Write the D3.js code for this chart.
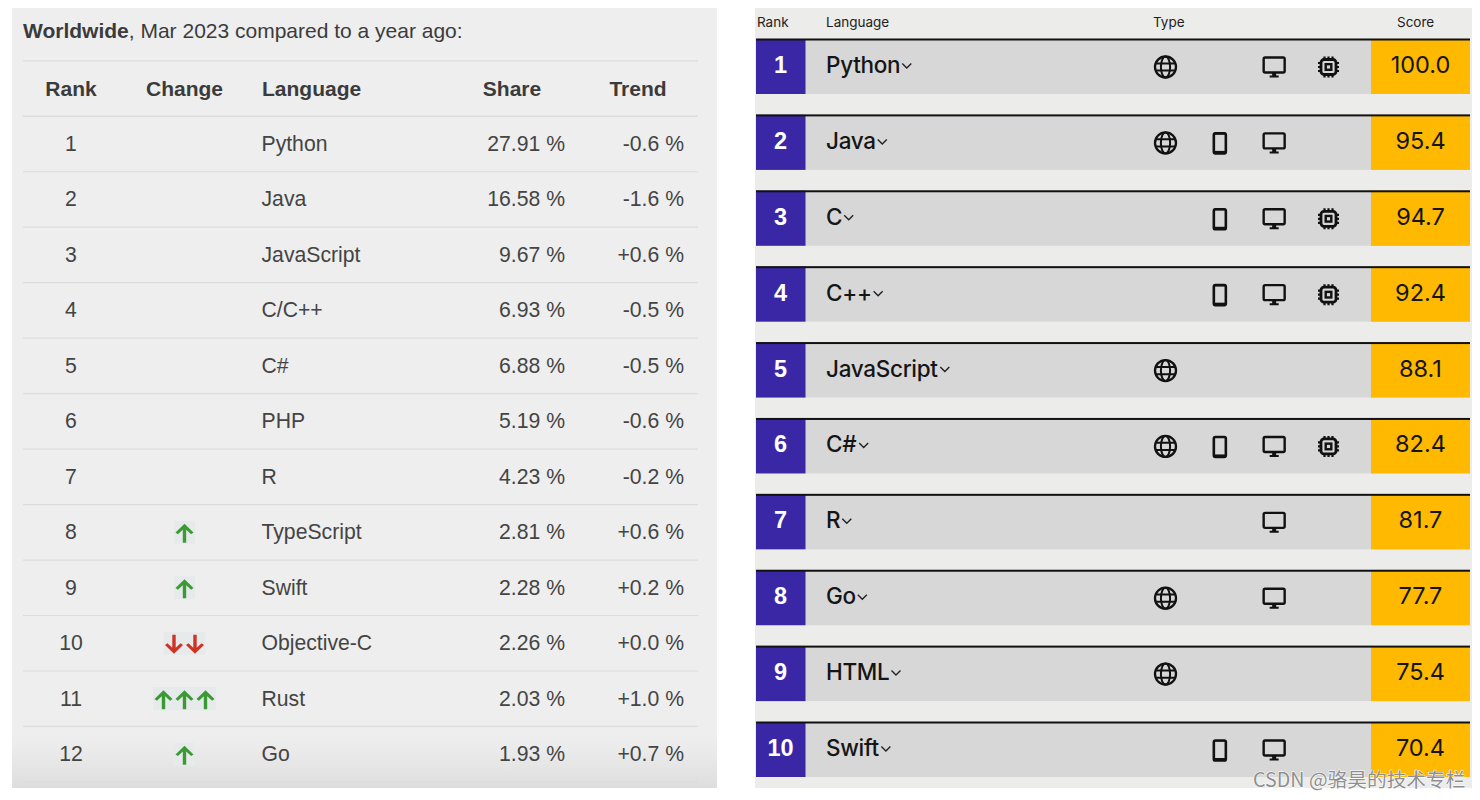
<!DOCTYPE html>
<html><head><meta charset="utf-8">
<script src="https://cdn.jsdelivr.net/npm/d3@7/dist/d3.min.js"></script>
<style>html,body{margin:0;background:#fff;overflow:hidden}svg{display:block}</style>
</head><body><svg id="c" width="1480" height="800"></svg>
<script>
// TIOBE-style table
const tRanks = [1,2,3,4,5,6,7,8,9,10,11,12];
const tLangs = ["Python","Java","JavaScript","C/C++","C#","PHP","R","TypeScript","Swift","Objective-C","Rust","Go"];
const tShare = ["27.91 %","16.58 %","9.67 %","6.93 %","6.88 %","5.19 %","4.23 %","2.81 %","2.28 %","2.26 %","2.03 %","1.93 %"];
const tTrend = ["-0.6 %","-1.6 %","+0.6 %","-0.5 %","-0.5 %","-0.6 %","-0.2 %","+0.6 %","+0.2 %","+0.0 %","+1.0 %","+0.7 %"];
const tChange = [0,0,0,0,0,0,0,1,1,-2,3,1];
// IEEE-style table
const iRanks = [1,2,3,4,5,6,7,8,9,10];
const iLangs = ["Python","Java","C","C++","JavaScript","C#","R","Go","HTML","Swift"];
const iScores = ["100.0","95.4","94.7","92.4","88.1","82.4","81.7","77.7","75.4","70.4"];
const iTypes = [
  ["web","desktop","embedded"],
  ["web","mobile","desktop"],
  ["mobile","desktop","embedded"],
  ["mobile","desktop","embedded"],
  ["web"],
  ["web","mobile","desktop","embedded"],
  ["desktop"],
  ["web","desktop"],
  ["web"],
  ["mobile","desktop"]
];
const typeKeys = ["web","mobile","desktop","embedded"];

const svg = d3.select("#c");
const defs = svg.append("defs");
const grad = defs.append("linearGradient").attr("id","fade").attr("x1",0).attr("x2",0).attr("y1",0).attr("y2",1);
grad.append("stop").attr("offset",0).attr("stop-color","#e3e3e3").attr("stop-opacity",0);
grad.append("stop").attr("offset",1).attr("stop-color","#dddddd").attr("stop-opacity",1);

const SANS = "'Liberation Sans',Arial,sans-serif";
const INTER = "Inter,'Liberation Sans',sans-serif";

/* ---------- left panel ---------- */
const L = svg.append("g");
L.append("rect").attr("x",12).attr("y",8).attr("width",705).attr("height",780).attr("fill","#eeeeee");
L.append("rect").attr("x",12).attr("y",735).attr("width",705).attr("height",53).attr("fill","url(#fade)");
const title = L.append("text").attr("x",23).attr("y",37.5).attr("font-family",SANS).attr("font-size",21).attr("fill","#3b3b3b");
title.append("tspan").attr("font-weight","bold").text("Worldwide");
title.append("tspan").text(", Mar 2023 compared to a year ago:");

const yL = d3.scaleLinear().domain([1,12]).range([144,754.2]);
const rowH = yL(2)-yL(1);
const lineY = [yL(1)-rowH*1.5].concat(tRanks.map(r=>yL(r)-rowH/2), [yL(12)+rowH/2]);
L.selectAll("line.sep").data(lineY).join("line").attr("class","sep")
  .attr("x1",23).attr("x2",698).attr("y1",d=>d).attr("y2",d=>d)
  .attr("stroke","#dcdcdc").attr("stroke-width",(d,i)=>i==1?1.6:1.2);

const heads = [["Rank",71,"middle"],["Change",184.5,"middle"],["Language",262,"start"],["Share",512,"middle"],["Trend",638,"middle"]];
L.selectAll("text.h").data(heads).join("text").attr("class","h")
  .attr("x",d=>d[1]).attr("y",yL(1)-rowH+7).attr("text-anchor",d=>d[2])
  .attr("font-family",SANS).attr("font-weight","bold").attr("font-size",21).attr("fill","#3b3b3b").text(d=>d[0]);

function col(data,x,anchor){
  L.append("g").selectAll("text").data(data).join("text")
   .attr("x",x).attr("y",(d,i)=>yL(i+1)+7).attr("text-anchor",anchor)
   .attr("font-family",SANS).attr("font-size",21.2).attr("fill","#444444").text(d=>d);
}
col(tRanks,71,"middle"); col(tLangs,261.5,"start"); col(tShare,565,"end"); col(tTrend,684,"end");

const arrowPath = "M0,-9.5 L-9,-0.8 L-6.6,0.9 L-1.7,-3.6 L-1.7,9.5 L1.7,9.5 L1.7,-3.6 L6.6,0.9 L9,-0.8 Z";
const arrowStep = 21;
tChange.forEach((c,i)=>{
  const n = Math.abs(c); if(!n) return;
  const g = L.append("g");
  const w = n*arrowStep;
  g.append("rect").attr("x",184.5-w/2).attr("y",yL(i+1)-11.5).attr("width",w).attr("height",23).attr("fill","#e6eaea");
  d3.range(n).forEach(k=>{
    const x = 184.5 + (k-(n-1)/2)*arrowStep;
    g.append("path").attr("d",arrowPath)
     .attr("transform",`translate(${x},${yL(i+1)+1}) scale(1,${c>0?1:-1})`)
     .attr("fill",c>0?"#3c9a34":"#cf3325");
  });
});

/* ---------- right panel ---------- */
const R = svg.append("g");
R.append("rect").attr("x",755).attr("y",8).attr("width",717).attr("height",780).attr("fill","#ececea");
const yR = d3.scaleLinear().domain([1,10]).range([39,722]);
const xT = d3.scalePoint().domain(typeKeys).range([1165.5,1328.5]);
const barH = 55;

R.selectAll("text.h").data([["Rank",757],["Language",826],["Type",1153],["Score",1397]]).join("text").attr("class","h")
 .attr("x",d=>d[1]).attr("y",26.5).attr("font-family",INTER).attr("font-size",13.5).attr("fill","#222").text(d=>d[0]);

const rows = R.selectAll("g.row").data(iRanks).join("g").attr("class","row")
  .attr("transform",d=>`translate(0,${yR(d)})`);
rows.append("rect").attr("x",756).attr("y",0).attr("width",714).attr("height",barH).attr("fill","#d7d7d7");
rows.append("rect").attr("x",756).attr("y",0).attr("width",49.5).attr("height",barH).attr("fill","#3a27a6");
rows.append("rect").attr("x",1371).attr("y",0).attr("width",99).attr("height",barH).attr("fill","#ffb900");
rows.append("rect").attr("x",756).attr("y",-0.5).attr("width",714).attr("height",2).attr("fill","#111");
rows.append("text").attr("x",780.5).attr("y",34).attr("text-anchor","middle").attr("font-family",SANS)
  .attr("font-weight","bold").attr("font-size",23.5).attr("fill","#fff").text(d=>d);
const names = rows.append("text").attr("x",826).attr("y",34).attr("font-family",INTER).attr("font-size",22.5)
  .attr("font-weight",500).attr("letter-spacing",-0.3)
  .attr("fill","#151515").text((d,i)=>iLangs[i]);
names.each(function(d){
  const b = this.getBBox();
  d3.select(this.parentNode).append("path")
    .attr("d",`M${b.x+b.width+2},${24.5} l4.5,4.5 l4.5,-4.5`).attr("fill","none").attr("stroke","#222").attr("stroke-width",1.4);
});
rows.append("text").attr("x",1420.5).attr("y",34).attr("text-anchor","middle").attr("font-family",INTER)
  .attr("font-size",23.5).attr("fill","#151515").text((d,i)=>iScores[i]);

const icon = {
  web(g){
    g.append("circle").attr("r",10.5).attr("fill","none").attr("stroke","#111").attr("stroke-width",2.3);
    g.append("ellipse").attr("rx",4.6).attr("ry",10.5).attr("fill","none").attr("stroke","#111").attr("stroke-width",2);
    g.append("path").attr("d","M-10,-3.6H10M-10,3.6H10").attr("stroke","#111").attr("stroke-width",2);
  },
  mobile(g){
    g.append("rect").attr("x",-6).attr("y",-9.5).attr("width",12).attr("height",20).attr("rx",1.6)
     .attr("fill","none").attr("stroke","#111").attr("stroke-width",2.6);
    g.append("rect").attr("x",-6).attr("y",8).attr("width",12).attr("height",2.5).attr("fill","#111");
    g.append("rect").attr("x",-6).attr("y",-10).attr("width",12).attr("height",1.5).attr("fill","#111");
  },
  desktop(g){
    g.append("rect").attr("x",-10.5).attr("y",-9.5).attr("width",21).attr("height",15).attr("rx",1.5)
     .attr("fill","none").attr("stroke","#111").attr("stroke-width",2.4);
    g.append("path").attr("d","M-2,5.5H2V8.5H4.5V10.5H-4.5V8.5H-2Z").attr("fill","#111");
  },
  embedded(g){
    g.append("rect").attr("x",-7.5).attr("y",-7.5).attr("width",15).attr("height",15).attr("rx",3)
     .attr("fill","none").attr("stroke","#111").attr("stroke-width",2.8);
    g.append("rect").attr("x",-2.8).attr("y",-2.8).attr("width",5.6).attr("height",5.6)
     .attr("fill","none").attr("stroke","#111").attr("stroke-width",2.4);
    g.append("path").attr("d","M-4,-10.5V-8M0,-10.5V-8M4,-10.5V-8M-4,8V10.5M0,8V10.5M4,8V10.5M-10.5,-4H-8M-10.5,0H-8M-10.5,4H-8M8,-4H10.5M8,0H10.5M8,4H10.5")
     .attr("stroke","#111").attr("stroke-width",2.2);
  }
};
rows.each(function(d,i){
  const row = d3.select(this);
  iTypes[i].forEach(t=>{
    const g = row.append("g").attr("transform",`translate(${xT(t)},28)`);
    icon[t](g);
  });
});

/* ---------- watermark ---------- */
svg.append("text").attr("x",1253).attr("y",786.5)
  .attr("font-family","'Noto Sans CJK SC','Noto Sans',sans-serif").attr("font-size",19.7)
  .attr("fill","#8f8f8f").attr("stroke","#fff").attr("stroke-width",1).attr("paint-order","stroke")
  .text("CSDN @骆昊的技术专栏");
</script></body></html>
